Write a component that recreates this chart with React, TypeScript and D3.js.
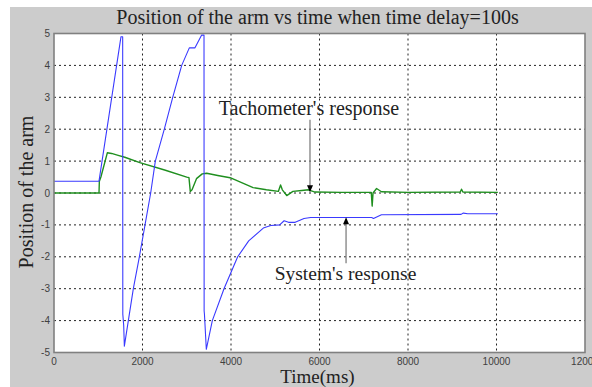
import React from "react";
import * as d3 from "d3";

const titleText = "Position of the arm vs time when time delay=100s";
const xLabel = "Time(ms)";
const yLabel = "Position of the arm";
const xTicks = [0, 2000, 4000, 6000, 8000, 10000, 12000];
const yTicks = [-5, -4, -3, -2, -1, 0, 1, 2, 3, 4, 5];

const systemT = [0, 1017, 1514, 1552, 1555, 1575, 1590, 1680, 1793, 1929, 2057, 2185, 2290, 2493, 2683, 2886, 3058, 3186, 3337, 3390, 3393, 3400, 3442, 3578, 3842, 4151, 4400, 4730, 4900, 5100, 5200, 5300, 5450, 5650, 5800, 7180, 7220, 7400, 9200, 9250, 9350, 10030];
const systemV = [0.37, 0.37, 4.9, 4.9, -3.8, -4.15, -4.8, -4.0, -3.0, -2.0, -1.0, 0.0, 1.0, 2.0, 3.0, 4.0, 4.55, 4.55, 4.95, 4.95, -3.7, -3.8, -4.9, -4.0, -3.0, -2.0, -1.5, -1.1, -1.02, -1.0, -0.87, -0.92, -0.92, -0.8, -0.77, -0.77, -0.8, -0.68, -0.67, -0.63, -0.65, -0.65];

const tachoT = [0, 1017, 1025, 1060, 1205, 1300, 1450, 1600, 1940, 2500, 3000, 3050, 3080, 3120, 3220, 3350, 3450, 3700, 3980, 4500, 4800, 5070, 5120, 5160, 5260, 5400, 5600, 5750, 5900, 6500, 7170, 7190, 7210, 7290, 7400, 8000, 9180, 9210, 9240, 10030];
const tachoV = [0, 0, 0.37, 0.5, 1.26, 1.24, 1.18, 1.12, 0.95, 0.72, 0.5, 0.48, 0.05, 0.1, 0.45, 0.6, 0.62, 0.55, 0.48, 0.17, 0.1, 0.05, 0.25, 0.1, -0.08, 0.05, 0.08, 0.1, 0.03, 0.02, 0.02, -0.41, 0.0, 0.14, 0.04, 0.02, 0.03, 0.12, 0.03, 0.02];

const annotations = [
  { label: "Tachometer's response", tx: 309, ty: 115, fs: 20, at: 5785, from: 2.3, to: 0.02 },
  { label: "System's response", tx: 345.5, ty: 280, fs: 19.5, at: 6600, from: -2.2, to: -0.76 },
];

export default function App() {
  const W = 592, H = 387;
  const left = 54, right = 585, top = 33.5, bottom = 352.5;
  const x = d3.scaleLinear().domain([0, 12000]).range([left, right]);
  const y = d3.scaleLinear().domain([-5, 5]).range([bottom, top]);
  const mk = (ts: number[], vs: number[]) =>
    d3.line<number>().x((t) => x(t)).y((_, i) => y(vs[i]))(ts) || "";
  const serif = "'Liberation Serif', 'Times New Roman', serif";
  const sans = "'Liberation Sans', Arial, sans-serif";
  return (
    <svg width={W} height={H} style={{ position: "absolute", left: 0, top: 0 }}>
      <defs>
        <clipPath id="plotclip">
          <rect x={left} y={top} width={right - left} height={bottom - top} />
        </clipPath>
      </defs>
      <rect x={0} y={0} width={W} height={H} fill="#fff" />
      <rect x={10} y={7} width={W - 10} height={H - 7} fill="#cccccc" />
      <rect x={left} y={top} width={right - left} height={bottom - top} fill="#fff" />
      {xTicks.slice(1, -1).map((t) => (
        <line key={"gx" + t} x1={x(t)} x2={x(t)} y1={top} y2={bottom} stroke="#222" strokeWidth={1} strokeDasharray="2,3" />
      ))}
      {yTicks.slice(1, -1).map((v) => (
        <line key={"gy" + v} x1={left} x2={right} y1={y(v)} y2={y(v)} stroke="#222" strokeWidth={1} strokeDasharray="2,3" />
      ))}
      <g clipPath="url(#plotclip)">
        <path d={mk(tachoT, tachoV)} fill="none" stroke="#1f8f1f" strokeWidth={1.4} strokeLinejoin="round" />
        <path d={mk(systemT, systemV)} fill="none" stroke="#3a3aff" strokeWidth={1.1} strokeLinejoin="round" />
      </g>
      <rect x={left} y={top} width={right - left} height={bottom - top} fill="none" stroke="#808080" strokeWidth={1.6} />
      {yTicks.map((v) => (
        <text key={"ty" + v} x={left - 4} y={y(v) + 3.5} textAnchor="end" fontFamily={sans} fontSize={10} fill="#404040">{v}</text>
      ))}
      {xTicks.map((t) => (
        <text key={"tx" + t} x={x(t)} y={365} textAnchor="middle" fontFamily={sans} fontSize={10} fill="#404040">{t}</text>
      ))}
      <text x={317.5} y={24} textAnchor="middle" fontFamily={serif} fontSize={20} fill="#222">{titleText}</text>
      <text x={317.5} y={383} textAnchor="middle" fontFamily={serif} fontSize={19} fill="#222">{xLabel}</text>
      <text transform={`translate(33,192) rotate(-90)`} textAnchor="middle" fontFamily={serif} fontSize={20} fill="#222">{yLabel}</text>
      {annotations.map((a) => {
        const ax = x(a.at);
        const y1 = y(a.from), y2 = y(a.to);
        const dir = y2 > y1 ? 1 : -1;
        return (
          <g key={a.label}>
            <text x={a.tx} y={a.ty} textAnchor="middle" fontFamily={serif} fontSize={a.fs} fill="#222">{a.label}</text>
            <line x1={ax} x2={ax} y1={y1} y2={y2 - dir * 6} stroke="#808080" strokeWidth={1.3} />
            <path d={`M${ax - 3},${y2 - dir * 7} L${ax + 3},${y2 - dir * 7} L${ax},${y2} Z`} fill="#000" />
          </g>
        );
      })}
    </svg>
  );
}
